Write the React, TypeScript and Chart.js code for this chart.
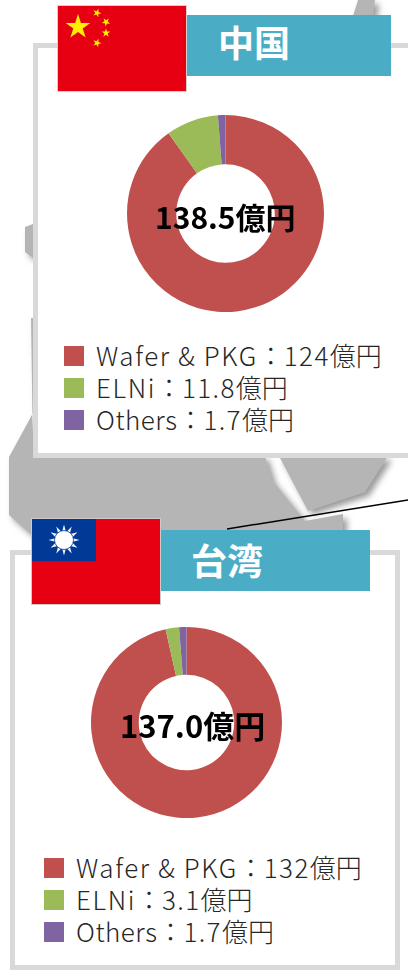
import React, { useEffect, useRef } from "react";
import { Chart, registerables } from "chart.js";

Chart.register(...registerables);

const categories = ["Wafer & PKG", "ELNi", "Others"];
const colors = ["#c0504d", "#9bbb59", "#8064a2"];
const chinaValues = [124, 11.8, 1.7];
const taiwanValues = [132, 3.1, 1.7];
const chinaLabels = ["124", "11.8", "1.7"];
const taiwanLabels = ["132", "3.1", "1.7"];
const FONT = '"Noto Sans CJK JP","Noto Sans",sans-serif';
const nameSpacing = [1.6, 1.6, 0.5];

function Donut({ values, left, top, size }: { values: number[]; left: number; top: number; size: number }) {
  const ref = useRef<HTMLCanvasElement>(null);
  useEffect(() => {
    const chart = new Chart(ref.current!, {
      type: "doughnut",
      data: {
        labels: categories,
        datasets: [{ data: values, backgroundColor: colors, borderWidth: 0 }],
      },
      options: {
        animation: false,
        responsive: false,
        cutout: "50%",
        layout: { padding: 0 },
        plugins: { legend: { display: false }, tooltip: { enabled: false } },
      },
    });
    return () => chart.destroy();
  }, []);
  return <canvas ref={ref} width={size} height={size} style={{ position: "absolute", left, top, width: size, height: size }} />;
}

function Text({ x, y, size, weight, color, children }: any) {
  return (
    <div style={{ position: "absolute", left: x, top: y, fontFamily: FONT, fontSize: size, fontWeight: weight, color, lineHeight: 1, whiteSpace: "nowrap" }}>
      {children}
    </div>
  );
}

function Legend({ x, y, labels }: { x: number; y: number; labels: string[] }) {
  return (
    <>
      {categories.map((c, i) => (
        <React.Fragment key={c}>
          <div style={{ position: "absolute", left: x, top: y + i * 32 - 10, width: 20, height: 20, background: colors[i] }} />
          <Text x={x + 32} y={y + i * 32 - 14} size={26} weight={300} color="#262626">
            <span style={{ letterSpacing: nameSpacing[i] }}>{c}</span>
            <span>：</span>
            <span style={{ letterSpacing: 1.4 }}>{labels[i]}</span>
            <span>億円</span>
          </Text>
        </React.Fragment>
      ))}
    </>
  );
}

function Star({ cx, cy, r, rot = 0 }: { cx: number; cy: number; r: number; rot?: number }) {
  const pts: string[] = [];
  for (let i = 0; i < 10; i++) {
    const a = ((-90 + rot + i * 36) * Math.PI) / 180;
    const rr = i % 2 ? r * 0.38 : r;
    pts.push(`${cx + rr * Math.cos(a)},${cy + rr * Math.sin(a)}`);
  }
  return <polygon points={pts.join(" ")} fill="#fff000" />;
}

const rays = Array.from({ length: 12 }, (_, i) => i * 30);

export default function App() {
  return (
    <div style={{ position: "absolute", left: 0, top: 0, width: 408, height: 970, overflow: "hidden", background: "#fff" }}>
      <svg width={408} height={970} style={{ position: "absolute", left: 0, top: 0 }}>
        <defs>
          <filter id="sh" x="-20%" y="-20%" width="150%" height="150%">
            <feDropShadow dx={4} dy={4} stdDeviation={3} floodColor="#777" floodOpacity={0.75} />
          </filter>
        </defs>
        <g filter="url(#sh)">
          <polygon points="358,0 375,0 373,16 353,16" fill="#b5b5b5" />
          <polygon points="25,227 33,224 33,258 25,252" fill="#b5b5b5" />
          <polygon points="31,318 33,318 33,413 9,457 9,515 34,537 343,537 343,514 305,521 272,480 265,456 33,456" fill="#b5b5b5" />
          <polygon points="279,456 388,456 365,492 308,511" fill="#b5b5b5" />
        </g>
        <line x1={227} y1={529} x2={408} y2={500} stroke="#000" strokeWidth={1.5} />
      </svg>
      <div style={{ position: "absolute", left: 33, top: 43, width: 400, height: 415, boxSizing: "border-box", border: "5px solid #d9d9d9", background: "#fff" }} />
      <div style={{ position: "absolute", left: 10, top: 550, width: 390, height: 420, boxSizing: "border-box", border: "5px solid #d9d9d9", background: "#fff" }} />
      <div style={{ position: "absolute", left: 187, top: 15, width: 204, height: 61, background: "#4bacc6" }} />
      <div style={{ position: "absolute", left: 160, top: 530, width: 210, height: 61, background: "#4bacc6" }} />
      <svg width={408} height={970} style={{ position: "absolute", left: 0, top: 0 }}>
        <rect x={57.5} y={5.5} width={129} height={86} fill="#e60012" stroke="#d8d0d0" />
        <Star cx={78} cy={27} r={13} />
        <Star cx={97} cy={13} r={4.5} rot={20} />
        <Star cx={106} cy={22} r={4.5} rot={40} />
        <Star cx={106} cy={33} r={4.5} rot={0} />
        <Star cx={97} cy={43} r={4.5} rot={20} />
        <rect x={31.5} y={518.5} width={129} height={86} fill="#e60012" stroke="#cfc8c8" />
        <rect x={32} y={519} width={64} height={42} fill="#003a96" />
        {rays.map((a) => {
          const r = (a * Math.PI) / 180;
          const p = (d: number, off: number) => `${64 + d * Math.cos(r + off)},${540 + d * Math.sin(r + off)}`;
          return <polygon key={a} points={`${p(15.5, 0)} ${p(8, 0.26)} ${p(8, -0.26)}`} fill="#eef3fa" />;
        })}
        <circle cx={64} cy={540} r={9.5} fill="#fff" stroke="#003a96" strokeWidth={0.8} />
      </svg>
      <Text x={218} y={23} size={36} weight={700} color="#fff">中国</Text>
      <Text x={191} y={541} size={36} weight={700} color="#fff">台湾</Text>

      <Donut values={chinaValues} left={127} top={115} size={197} />
      <Donut values={taiwanValues} left={91} top={627} size={191} />
      <Text x={155} y={201} size={30} weight={700} color="#000">138.5億円</Text>
      <Text x={120} y={709} size={31} weight={700} color="#000">137.0億円</Text>

      <Legend x={64} y={356} labels={chinaLabels} />
      <Legend x={44} y={868} labels={taiwanLabels} />
    </div>
  );
}
